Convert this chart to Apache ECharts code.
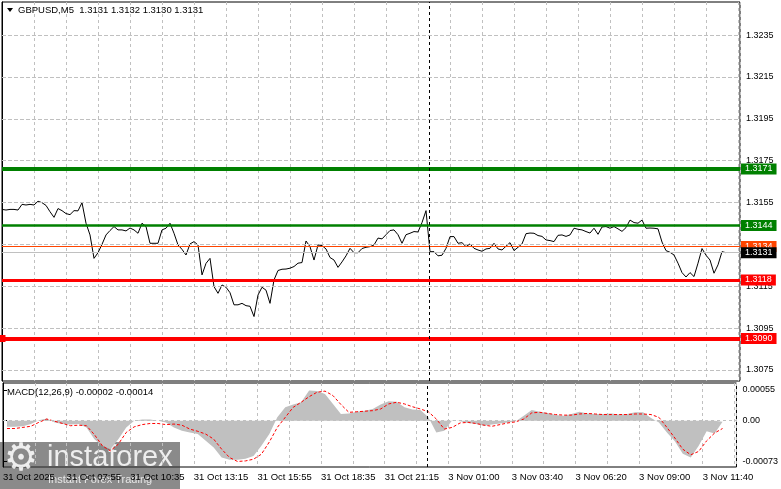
<!DOCTYPE html>
<html><head><meta charset="utf-8">
<script src="https://cdn.jsdelivr.net/npm/echarts@6/dist/echarts.min.js"></script>
<style>html,body{margin:0;padding:0;background:#fff}#c{width:781px;height:489px}</style>
</head><body><div id="c"></div>
<script>
const symbolName = 'GBPUSD,M5';
const ohlc = ['1.3131', '1.3132', '1.3130', '1.3131'];
const macdTitle = 'MACD(12,26,9) -0.00002 -0.00014';
const timeLabels = ['31 Oct 2025', '31 Oct 07:55', '31 Oct 10:35', '31 Oct 13:15', '31 Oct 15:55', '31 Oct 18:35',
  '31 Oct 21:15', '3 Nov 01:00', '3 Nov 03:40', '3 Nov 06:20', '3 Nov 09:00', '3 Nov 11:40'];
const priceTicks = [1.3075, 1.3095, 1.3115, 1.3135, 1.3155, 1.3175, 1.3195, 1.3215, 1.3235];
const macdTicks = [0.00055, 0, -0.00073];
const macdTickLabels = ['0.00055', '0.00', '-0.00073'];
const levelValues = [1.3171, 1.3144, 1.3118, 1.3090];
const askPrice = 1.3134;
const bidPrice = 1.3131;
const separatorBar = 213.5;

// close prices, one value every 2 bars
const closePrices = [
  1.31517, 1.31514, 1.31517, 1.31517, 1.31514, 1.31541, 1.31538, 1.31541, 1.31538, 1.31556,
  1.31549, 1.31536, 1.31506, 1.31479, 1.31521, 1.31511, 1.31497, 1.31492, 1.31511, 1.31510,
  1.31549, 1.31451, 1.31395, 1.31283, 1.31310, 1.31350, 1.31395, 1.31416, 1.31435, 1.31419,
  1.31419, 1.31414, 1.31428, 1.31419, 1.31403, 1.31451, 1.31435, 1.31355, 1.31355, 1.31355,
  1.31419, 1.31427, 1.31451, 1.31403, 1.31347, 1.31326, 1.31299, 1.31352, 1.31363, 1.31347,
  1.31204, 1.31259, 1.31283, 1.31148, 1.31116, 1.31156, 1.31145, 1.31119, 1.31061, 1.31061,
  1.31068, 1.31057,
  1.31054, 1.31005, 1.31108, 1.31145, 1.31131, 1.31068, 1.31180, 1.31225, 1.31231, 1.31232,
  1.31236, 1.31244, 1.31260, 1.31263, 1.31366, 1.31339, 1.31275, 1.31347, 1.31344, 1.31328,
  1.31287, 1.31275, 1.31240, 1.31266, 1.31295, 1.31331, 1.31310, 1.31310, 1.31330, 1.31336,
  1.31339, 1.31347, 1.31380, 1.31376, 1.31396, 1.31416, 1.31419, 1.31396, 1.31355, 1.31396,
  1.31403, 1.31411, 1.31409, 1.31454, 1.31511, 1.31315, 1.31315, 1.31295, 1.31298, 1.31331,
  1.31387, 1.31387, 1.31355, 1.31358, 1.31339, 1.31352, 1.31331, 1.31323, 1.31317, 1.31328,
  1.31331, 1.31355, 1.31328, 1.31323, 1.31341, 1.31358, 1.31320, 1.31336, 1.31352, 1.31401,
  1.31404, 1.31403, 1.31392, 1.31388, 1.31371, 1.31368, 1.31363, 1.31393, 1.31395, 1.31388,
  1.31395, 1.31427, 1.31422, 1.31419, 1.31411, 1.31404, 1.31427, 1.31398, 1.31433, 1.31435,
  1.31427, 1.31435, 1.31424, 1.31412, 1.31430, 1.31466, 1.31454, 1.31451, 1.31466, 1.31427,
  1.31428, 1.31427, 1.31424, 1.31361, 1.31320, 1.31312, 1.31299, 1.31260, 1.31215, 1.31194,
  1.31215, 1.31196, 1.31260, 1.31330, 1.31298, 1.31275, 1.31212, 1.31252, 1.31315, 1.31310
];

// MACD main (histogram) and signal, one value every 4 bars starting at bar 2
const macdMain = [
  -0.00011, -0.00011, -0.00010, -0.00006, 0.00001, 0.00004, -0.00003, -0.00006, -0.00007, -0.00006,
  -0.00012, -0.00033, -0.00045, -0.00051, -0.00033, -0.00012, 0, 0.00002, 0.00002, 0,
  -0.00003, -0.00012, -0.00018, -0.00021, -0.00024, -0.00036, -0.00048, -0.00066, -0.00070, -0.00070,
  -0.00068, -0.00063,
  -0.00045, -0.00024, 0.00006, 0.00024, 0.00029, 0.00033, 0.00054, 0.00053, 0.00048, 0.00030,
  0.00012, 0.00013, 0.00016, 0.00018, 0.00021, 0.00029, 0.00035, 0.00034, 0.00024, 0.00020,
  0.00019, 0.00006, -0.00021, -0.00018, 0.00001, -0.00001, -0.00004, -0.00006, -0.00009, -0.00007,
  -0.00005,
  -0.00003, -0.00001, 0.00009, 0.00019, 0.00016, 0.00014, 0.00010, 0.00009, 0.00012, 0.00016,
  0.00013, 0.00012, 0.00012, 0.00013, 0.00011, 0.00012, 0.00015, 0.00015, 0.00005, -0.00003,
  -0.00021, -0.00037, -0.00059, -0.00066, -0.00045, -0.00019, -0.00023, -0.00002
];
const macdSignal = [
  -0.00014, -0.00014, -0.00012, -0.00010, -0.00003, 0.00003, -0.00001, -0.00005, -0.00009, -0.00008,
  -0.00009, -0.00025, -0.00045, -0.00054, -0.00042, -0.00021, -0.00011, -0.00007, -0.00005, -0.00005,
  -0.00007, -0.00006, -0.00008, -0.00015, -0.00019, -0.00024, -0.00033, -0.00051, -0.00066, -0.00073,
  -0.00072, -0.00069,
  -0.00060, -0.00038, -0.00012, 0.00006, 0.00024, 0.00033, 0.00043, 0.00051, 0.00053, 0.00045,
  0.00029, 0.00015, 0.00016, 0.00017, 0.00018, 0.00021, 0.00030, 0.00033, 0.00030, 0.00025,
  0.00021, 0.00016, 0.00003, -0.00015, -0.00012, -0.00004, -0.00003, -0.00005, -0.00008, -0.00010,
  -0.00007,
  -0.00004, -0.00002, 0.00003, 0.00014, 0.00015, 0.00013, 0.00011, 0.00010, 0.00010, 0.00012,
  0.00013, 0.00012, 0.00011, 0.00011, 0.00011, 0.00011, 0.00012, 0.00012, 0.00011, 0.00006,
  -0.00012, -0.00031, -0.00051, -0.00061, -0.00055, -0.00036, -0.00022, -0.00014
];

const PRICE_STEP = 2, MACD_STEP = 4, MACD_OFFSET = 2;
const FONT = "'Liberation Sans', Arial, sans-serif";
const gridDash = () => ({ color: '#c0c0c0', type: [3, 3], width: 1 });

const levelStyle = [
  { color: '#008000', width: 4 },
  { color: '#008000', width: 2.5 },
  { color: '#ff0000', width: 3 },
  { color: '#ff0000', width: 4 }
];

function boxLabel(bg) {
  return {
    show: true, position: 'end', distance: 1,
    formatter: p => Number(p.value).toFixed(4),
    backgroundColor: bg, color: '#fff', fontFamily: FONT, fontSize: 9,
    lineHeight: 10, padding: [1, 4, 0, 4]
  };
}

const levelData = levelValues.map((v, i) => {
  const item = { yAxis: v, lineStyle: Object.assign({ type: 'solid' }, levelStyle[i]), label: boxLabel(levelStyle[i].color) };
  if (i === 3) { item.symbol = 'rect'; item.symbolSize = 7; }
  return item;
});
levelData.push({ yAxis: askPrice, lineStyle: { color: '#ff4500', width: 1, type: 'solid' }, label: boxLabel('#ff4500') });
levelData.push({ yAxis: bidPrice, lineStyle: { color: '#c0c0c0', width: 1, type: 'solid' }, label: boxLabel('#000000') });

const gridLineData = priceTicks.map(v => ({
  yAxis: v, label: { show: false }, symbol: 'none',
  lineStyle: { color: '#c0c0c0', width: 1, type: 'dashed', dashOffset: 0 }
}));

function xAxisBase() {
  return {
    type: 'value', min: 0, max: 369, interval: 16,
    axisLine: { show: false }, axisTick: { show: false },
    splitLine: { show: true, lineStyle: gridDash() }
  };
}

const chart = echarts.init(document.getElementById('c'), null, { renderer: 'canvas' });
chart.setOption({
  animation: false,
  backgroundColor: '#fff',
  textStyle: { fontFamily: FONT },
  grid: [
    { left: 2, top: 2, right: 41, height: 379, show: true, borderColor: '#000', borderWidth: 1, backgroundColor: '#fff' },
    { left: 2, top: 383, right: 41, height: 84, show: true, borderColor: '#000', borderWidth: 1, backgroundColor: '#fff' }
  ],
  xAxis: [
    Object.assign(xAxisBase(), { gridIndex: 0, axisLabel: { show: false } }),
    Object.assign(xAxisBase(), {
      gridIndex: 1,
      axisLabel: {
        show: true, align: 'left', verticalAlign: 'top', margin: 5, color: '#000', fontSize: 9.5, fontFamily: FONT,
        showMinLabel: true, showMaxLabel: false,
        formatter: v => (v % 32 === 0 && timeLabels[v / 32]) ? timeLabels[v / 32] : ''
      }
    })
  ],
  yAxis: [
    {
      type: 'value', gridIndex: 0, position: 'right', min: 1.30697, max: 1.32508,
      axisLine: { show: true, lineStyle: { color: '#000', width: 1 } },
      axisTick: { show: true, length: 4, lineStyle: { color: '#000' }, customValues: priceTicks },
      axisLabel: { color: '#000', fontSize: 9, fontFamily: FONT, margin: 6, customValues: priceTicks, formatter: v => v.toFixed(4) },
      splitLine: { show: false }
    },
    {
      type: 'value', gridIndex: 1, position: 'right', min: -0.000829, max: 0.000675,
      axisLine: { show: true, lineStyle: { color: '#000', width: 1 } },
      axisTick: { show: true, length: 4, lineStyle: { color: '#000' }, customValues: macdTicks },
      axisLabel: { color: '#000', fontSize: 9, fontFamily: FONT, margin: 6, customValues: macdTicks,
        formatter: v => { const i = macdTicks.findIndex(t => Math.abs(t - v) < 1e-9); return i >= 0 ? macdTickLabels[i] : ''; } },
      splitLine: { show: false }
    }
  ],
  series: [
    {
      name: 'levels', type: 'line', xAxisIndex: 0, yAxisIndex: 0, data: [], z: 2, silent: true,
      markLine: { silent: true, precision: 6, symbol: 'none', data: gridLineData.concat(levelData) }
    },
    {
      name: 'close', type: 'line', xAxisIndex: 0, yAxisIndex: 0, z: 3,
      data: closePrices.map((v, i) => [i * PRICE_STEP, v]),
      showSymbol: false, symbol: 'none', lineStyle: { color: '#000', width: 1 },
      markLine: { silent: true, precision: 2, symbol: 'none', label: { show: false },
        lineStyle: { color: '#000', type: [3, 3], width: 1 }, data: [{ xAxis: separatorBar }] }
    },
    {
      name: 'macdZero', type: 'line', xAxisIndex: 1, yAxisIndex: 1, data: [], z: 1, silent: true,
      markLine: { silent: true, symbol: 'none', label: { show: false }, lineStyle: gridDash(), data: [{ yAxis: 0 }] }
    },
    {
      name: 'MACD', type: 'line', xAxisIndex: 1, yAxisIndex: 1, z: 2,
      data: macdMain.map((v, i) => [MACD_OFFSET + i * MACD_STEP, v]),
      showSymbol: false, symbol: 'none', lineStyle: { width: 0, color: '#c0c0c0' },
      areaStyle: { color: '#c0c0c0', opacity: 1 }
    },
    {
      name: 'Signal', type: 'line', xAxisIndex: 1, yAxisIndex: 1, z: 3,
      data: macdSignal.map((v, i) => [MACD_OFFSET + i * MACD_STEP, v]),
      showSymbol: false, symbol: 'none', lineStyle: { color: '#ff0000', width: 1, type: [3, 2] },
      markLine: { silent: true, precision: 2, symbol: 'none', label: { show: false },
        lineStyle: { color: '#000', type: [3, 3], width: 1 }, data: [{ xAxis: separatorBar }] }
    }
  ],
  graphic: [
    { type: 'polygon', shape: { points: [[7, 8], [13, 8], [10, 12]] }, style: { fill: '#000' }, z: 10 },
    { type: 'text', left: 18, top: 5, z: 10,
      style: { text: symbolName + '  ' + ohlc.join(' '), fill: '#000', font: '9.5px ' + FONT } },
    { type: 'text', left: 7, top: 387, z: 10,
      style: { text: macdTitle, fill: '#000', font: '9.5px ' + FONT } },
    { type: 'group', z: 100, children: [
      { type: 'rect', shape: { x: 0, y: 442, width: 180, height: 47 }, style: { fill: 'rgba(60,60,60,0.6)' } },
      { type: 'text', x: 4, y: 441, style: { text: '\u2699', fill: 'rgba(255,255,255,0.85)', font: '38px DejaVu Sans' } },
      { type: 'text', x: 47, y: 443, style: { text: 'instaforex', fill: 'rgba(255,255,255,0.85)', font: '29px ' + FONT } },
      { type: 'text', x: 48, y: 474, style: { text: 'Instant Forex Trading', fill: 'rgba(255,255,255,0.8)', font: '11px ' + FONT } }
    ] }
  ]
});
</script>
</body></html>
